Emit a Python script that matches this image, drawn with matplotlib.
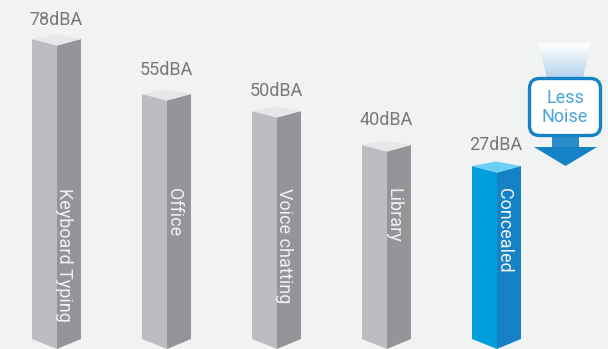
import matplotlib

matplotlib.use("Agg")
import matplotlib.pyplot as plt
import numpy as np
from matplotlib.colors import LinearSegmentedColormap
from matplotlib.patches import FancyBboxPatch, Polygon

categories = ["Keyboard Typing", "Office", "Voice chatting", "Library", "Concealed"]
value_labels = ["78dBA", "55dBA", "50dBA", "40dBA", "27dBA"]
# the picture is not to scale, so these are the drawn heights
bar_heights = [300, 245, 228, 194, 173]

BG = "#f1f2f2"
GRAY = ("#bcbdc0", "#939598", "#e6e7e8")
BLUE = ("#00a0dc", "#1482c5", "#6dcff6")
DARK_BLUE = "#1482c5"

plt.rcParams["font.family"] = ["Roboto", "DejaVu Sans"]

fig = plt.figure(figsize=(6.08, 3.49), dpi=100, facecolor=BG)
ax = fig.add_axes([0, 0, 1, 1])
ax.set_xlim(0, 608)
ax.set_ylim(349, 0)
ax.axis("off")

base = 339
label_gap = [20, 25, 21, 26, 22]
for i, (name, label, h) in enumerate(zip(categories, value_labels, bar_heights)):
    x0 = 32 + i * 110
    xm = x0 + 25
    x1 = x0 + 49
    top = base - h
    left, right, cap = BLUE if name == "Concealed" else GRAY
    ax.add_patch(Polygon([(x0, top), (xm, top + 6.5), (xm, base + 10), (x0, base)], fc=left, ec="none"))
    ax.add_patch(Polygon([(xm, top + 6.5), (x1, top), (x1, base), (xm, base + 10)], fc=right, ec="none"))
    ax.add_patch(Polygon([(x0, top), (xm - 1, top - 4.5), (x1, top), (xm, top + 6.5)], fc=cap, ec="none"))
    ax.text(xm - 1, top - label_gap[i] + 1, label, ha="center", va="center", fontsize=13, color="#77787b")
    ax.text(xm + 7, 188, name, rotation=-90, ha="center", va="top", fontsize=13, color="#f1f2f2")

# fan above the box
grad = LinearSegmentedColormap.from_list("fan", ["#ffffff", "#b5d3ec"])
im = ax.imshow(np.linspace(0, 1, 64).reshape(-1, 1), cmap=grad, extent=(538, 591, 78, 43), aspect="auto", zorder=2)
fan = Polygon([(538, 43), (591, 43), (583, 78), (547, 78)], transform=ax.transData, fc="none", ec="none")
ax.add_patch(fan)
im.set_clip_path(fan)
ax.set_xlim(0, 608)
ax.set_ylim(349, 0)

# arrow below the box
ax.add_patch(Polygon([(552, 135), (579, 135), (579, 147), (552, 147)], fc="#2a8dca", ec="none", zorder=2))
ax.add_patch(Polygon([(534, 147), (597, 147), (565.5, 166)], fc=DARK_BLUE, ec="none", zorder=2))

ax.add_patch(FancyBboxPatch((535, 84), 60, 46, boxstyle="round,pad=5.5,rounding_size=10",
                            fc="white", ec=DARK_BLUE, lw=2.4, zorder=3))
ax.text(565, 98, "Less", ha="center", va="center", fontsize=13, color="#4aa3dc", zorder=4)
ax.text(565, 117, "Noise", ha="center", va="center", fontsize=13, color="#4aa3dc", zorder=4)

fig.savefig("out.png", dpi=100, facecolor=BG)
